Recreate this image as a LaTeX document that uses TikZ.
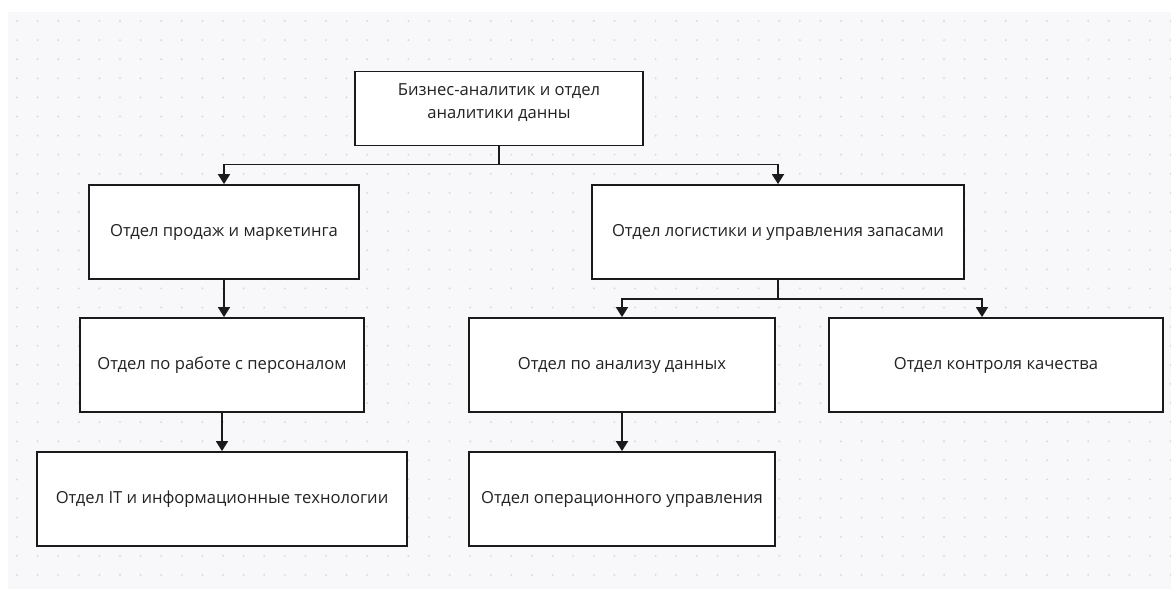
\documentclass[tikz,border=0pt]{standalone}
\usepackage{fontspec}
\setmainfont{Open Sans}
\usetikzlibrary{arrows.meta,calc}
\definecolor{paper}{HTML}{F8F8FA}
\definecolor{griddot}{HTML}{DADADF}
\definecolor{boxline}{HTML}{1A1A1A}
\definecolor{labeltext}{HTML}{222222}

\begin{document}
\begin{tikzpicture}[x=1pt,y=-1pt,
  unit/.style={draw=boxline,line width=1.8pt,fill=white,inner sep=0pt,minimum height=94pt,
    font=\fontsize{16.6}{23}\selectfont,text=labeltext,align=center},
  link/.style={draw=boxline,line width=1.8pt,-{Triangle[width=12pt,length=10pt]}}]
\useasboundingbox (0,0) rectangle (1171,592);
\fill[paper] (8,12) rectangle (1171,589);
\foreach \i in {0,...,56}
  \foreach \j in {0,...,29}
    \fill[griddot] (17+20.6*\i,21+19.1*\j) circle (1.1pt);

% boxes
\node[unit,minimum width=288pt,minimum height=74pt,text depth=15pt] (head) at (499,108.5) {Бизнес-аналитик и отдел\\аналитики данны};
\node[unit,minimum width=270pt] (sales) at (224,232) {Отдел продаж и маркетинга};
\node[unit,minimum width=372pt] (logist) at (778,232) {Отдел логистики и управления запасами};
\node[unit,minimum width=284pt] (staff) at (222,365) {Отдел по работе с персоналом};
\node[unit,minimum width=306pt] (data) at (622,365) {Отдел по анализу данных};
\node[unit,minimum width=334pt] (quality) at (996,365) {Отдел контроля качества};
\node[unit,minimum width=370pt] (it) at (222,499) {Отдел IT и информационные технологии};
\node[unit,minimum width=306pt] (ops) at (622,499) {Отдел операционного управления};

% links
\draw[link] (head.south) -- ++(0,18) -| (sales.north);
\draw[link] (head.south) -- ++(0,18) -| (logist.north);
\draw[link] (logist.south) -- ++(0,19) -| (data.north);
\draw[link] (logist.south) -- ++(0,19) -| ($(quality.north)+(-14,0)$);
\draw[link] (sales.south) -- (sales.south |- staff.north);
\draw[link] (staff.south) -- (staff.south |- it.north);
\draw[link] (data.south) -- (data.south |- ops.north);
\end{tikzpicture}
\end{document}
